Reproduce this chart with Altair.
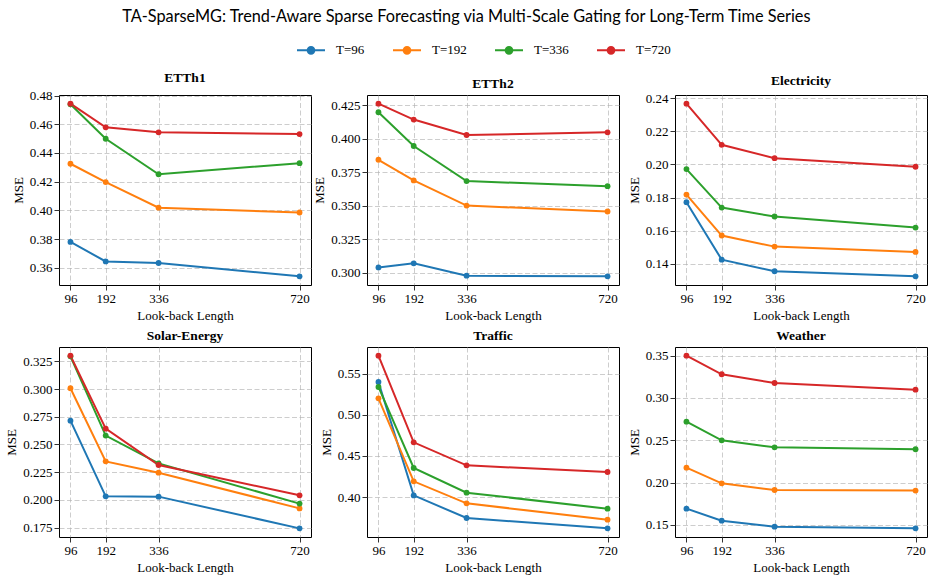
import altair as alt
import pandas as pd

# Look-back lengths on the x axis and forecast horizons as series
lookback = [96, 192, 336, 720]
horizons = ["T=96", "T=192", "T=336", "T=720"]
palette = ["#1f77b4", "#ff7f0e", "#2ca02c", "#d62728"]

# MSE per dataset, one list per horizon (ordered by look-back length)
etth1 = {
    "T=96": [0.3780, 0.3644, 0.3633, 0.3540],
    "T=192": [0.4325, 0.4197, 0.4019, 0.3985],
    "T=336": [0.4740, 0.4499, 0.4252, 0.4329],
    "T=720": [0.4744, 0.4579, 0.4544, 0.4532],
}
etth2 = {
    "T=96": [0.3040, 0.3070, 0.2978, 0.2973],
    "T=192": [0.3843, 0.3689, 0.3501, 0.3457],
    "T=336": [0.4198, 0.3946, 0.3684, 0.3646],
    "T=720": [0.4262, 0.4143, 0.4028, 0.4048],
}
electricity = {
    "T=96": [0.1772, 0.1424, 0.1354, 0.1323],
    "T=192": [0.1818, 0.1570, 0.1503, 0.1471],
    "T=336": [0.1972, 0.1739, 0.1685, 0.1618],
    "T=720": [0.2368, 0.2119, 0.2038, 0.1986],
}
solar = {
    "T=96": [0.2715, 0.2033, 0.2030, 0.1744],
    "T=192": [0.3007, 0.2348, 0.2246, 0.1924],
    "T=336": [0.3295, 0.2580, 0.2330, 0.1967],
    "T=720": [0.3301, 0.2643, 0.2315, 0.2042],
}
traffic = {
    "T=96": [0.5399, 0.4020, 0.3745, 0.3619],
    "T=192": [0.5200, 0.4191, 0.3923, 0.3725],
    "T=336": [0.5338, 0.4353, 0.4053, 0.3858],
    "T=720": [0.5719, 0.4665, 0.4385, 0.4304],
}
weather = {
    "T=96": [0.1693, 0.1551, 0.1480, 0.1460],
    "T=192": [0.2177, 0.1992, 0.1913, 0.1906],
    "T=336": [0.2720, 0.2500, 0.2417, 0.2394],
    "T=720": [0.3500, 0.3280, 0.3177, 0.3098],
}

# Tick values and label formats for each panel's y axis
etth1_ticks = [0.36, 0.38, 0.40, 0.42, 0.44, 0.46, 0.48]
etth2_ticks = [0.300, 0.325, 0.350, 0.375, 0.400, 0.425]
electricity_ticks = [0.14, 0.16, 0.18, 0.20, 0.22, 0.24]
solar_ticks = [0.175, 0.200, 0.225, 0.250, 0.275, 0.300, 0.325]
traffic_ticks = [0.40, 0.45, 0.50, 0.55]
weather_ticks = [0.15, 0.20, 0.25, 0.30, 0.35]

panels = [
    ("ETTh1", etth1, etth1_ticks, ".2f"),
    ("ETTh2", etth2, etth2_ticks, ".3f"),
    ("Electricity", electricity, electricity_ticks, ".2f"),
    ("Solar-Energy", solar, solar_ticks, ".3f"),
    ("Traffic", traffic, traffic_ticks, ".2f"),
    ("Weather", weather, weather_ticks, ".2f"),
]

SERIF = "Liberation Serif"
W, H = 252, 190

# legend glyph: a short line with a dot in the middle
legend_symbol = (
    "M-1,0L1,0 "
    "M-0.24,0a0.24,0.24 0 1,0 0.48,0a0.24,0.24 0 1,0 -0.48,0Z"
)

span = lookback[-1] - lookback[0]
x_domain = [lookback[0] - 0.05 * span, lookback[-1] + 0.05 * span]


def make_panel(name, series, ticks, fmt):
    rows = []
    for h in horizons:
        for lb, v in zip(lookback, series[h]):
            rows.append({"lookback": lb, "mse": v, "horizon": h, "k": horizons.index(h)})
    df = pd.DataFrame(rows)
    lo, hi = df["mse"].min(), df["mse"].max()
    pad = 0.05 * (hi - lo)

    x = alt.X(
        "lookback:Q",
        scale=alt.Scale(domain=x_domain, nice=False, zero=False),
        axis=alt.Axis(values=lookback, format="d", title="Look-back Length"),
    )
    y = alt.Y(
        "mse:Q",
        scale=alt.Scale(domain=[lo - pad, hi + pad], nice=False, zero=False),
        axis=alt.Axis(values=ticks, format=fmt, title="MSE"),
    )
    color = alt.Color(
        "horizon:N",
        scale=alt.Scale(domain=horizons, range=palette),
        legend=alt.Legend(
            title=None,
            orient="none",
            direction="horizontal",
            legendX=237,
            legendY=-60,
            symbolType=legend_symbol,
            symbolSize=784,
            symbolStrokeWidth=2,
            symbolOpacity=1,
            labelFont=SERIF,
            labelFontSize=13,
            labelColor="#000000",
            labelOffset=10,
            columnPadding=24,
        ),
    )
    base = alt.Chart(df).encode(x=x, y=y, color=color)
    lines = base.mark_line(strokeWidth=2).encode(order="k:Q")
    dots = base.mark_point(filled=True, size=34, opacity=1).encode(order="k:Q")
    return alt.layer(lines, dots).properties(
        width=W,
        height=H,
        title=alt.TitleParams(
            name, font=SERIF, fontSize=13.5, fontWeight="bold", color="#000000", offset=5
        ),
    )


chart = alt.concat(
    *[make_panel(*p) for p in panels],
    columns=3,
    spacing=alt.RowColnumber(row=62, column=56),
    bounds="flush",
).properties(
    title=alt.TitleParams(
        "TA-SparseMG: Trend-Aware Sparse Forecasting via Multi-Scale Gating for Long-Term Time Series",
        font="Lato",
        fontSize=16.3,
        fontWeight="normal",
        color="#000000",
        anchor="middle",
        offset=10,
    ),
    padding={"left": 5, "top": 8, "right": 6, "bottom": 4},
    background="#ffffff",
).configure_view(
    stroke="#000000", strokeWidth=1
).configure_axis(
    labelFont=SERIF,
    labelFontSize=13,
    labelColor="#000000",
    titleFont=SERIF,
    titleFontSize=13,
    titleFontWeight="normal",
    titleColor="#000000",
    domain=False,
    ticks=True,
    tickColor="#000000",
    tickSize=5,
    tickWidth=0.8,
    labelPadding=2,
    titlePadding=4,
    grid=True,
    gridColor="#b0b0b0",
    gridDash=[5, 2.5],
    gridWidth=0.8,
    gridOpacity=0.8,
)

chart.save("out.html", embed_options={"renderer": "svg", "actions": False})
